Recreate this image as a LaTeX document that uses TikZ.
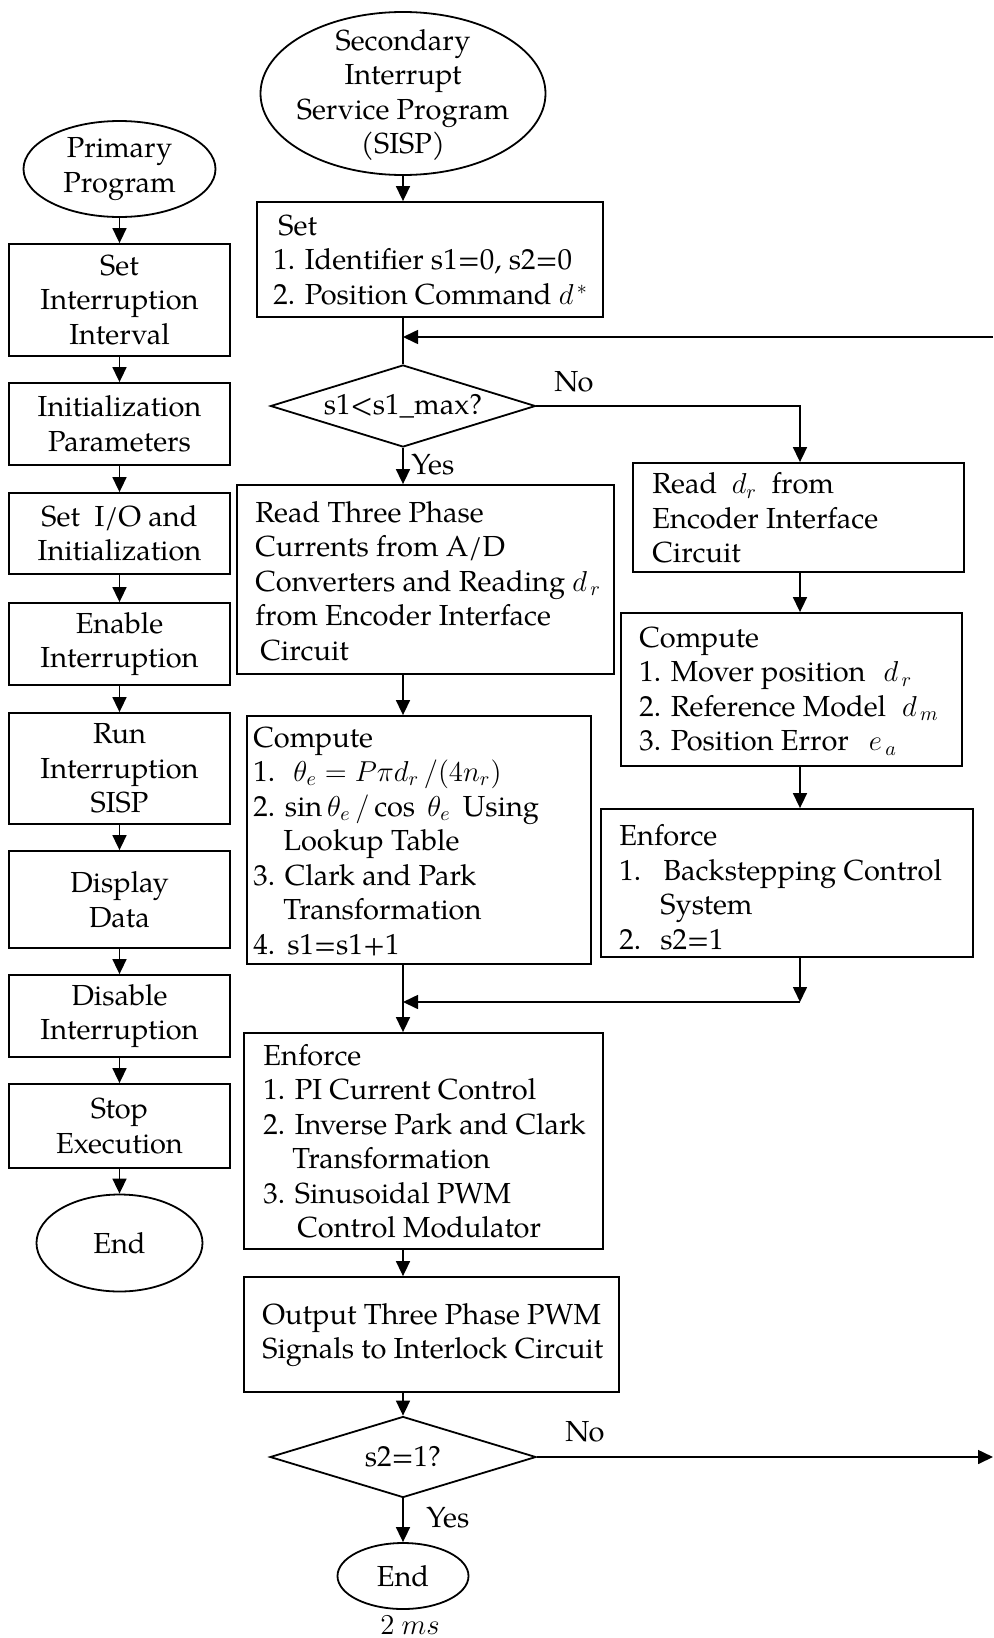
\documentclass[tikz,border=0pt]{standalone}
\usepackage{fontspec}
\setmainfont{TeX Gyre Pagella}
\usetikzlibrary{shapes.geometric,arrows.meta,calc}

\tikzset{
  every node/.style={font=\fontsize{14.5}{17.25}\selectfont},
  box/.style={draw, line width=0.9pt, inner sep=0pt},
  lbox/.style={box, minimum width=110.5pt, align=center},
  oval/.style={draw, ellipse, line width=0.9pt, inner sep=0pt, align=center},
  txt/.style={anchor=west, align=left, inner sep=0pt},
  ctxt/.style={align=center, inner sep=0pt},
  cond/.style={draw, diamond, line width=0.9pt, inner sep=0pt, shape aspect=3.2},
  flow/.style={line width=0.8pt, -{Triangle[length=7.5pt,width=7pt]}},
  wire/.style={line width=0.8pt},
  lbl/.style={inner sep=0pt},
}

\begin{document}
\begin{tikzpicture}[x=0.5pt,y=-0.5pt]
\useasboundingbox (0,0) rectangle (993,1638);

% ---------------- primary program (left column) ----------------
\node[oval, minimum width=96pt, minimum height=48pt] (prim) at (119.5,169) {Primary\\Program};
\node[lbox, minimum height=56pt]   (b1) at (119.5,300)   {Set\\Interruption\\Interval};
\node[lbox, minimum height=41pt]   (b2) at (119.5,424)   {Initialization\\Parameters};
\node[lbox, minimum height=40.5pt] (b3) at (119.5,533.5) {Set\ \ I/O and\\Initialization};
\node[lbox, minimum height=41pt]   (b4) at (119.5,644)   {Enable\\Interruption};
\node[lbox, minimum height=55.5pt] (b5) at (119.5,768.5) {Run\\Interruption\\SISP};
\node[lbox, minimum height=48.5pt] (b6) at (119.5,899.5) {Display\\Data};
\node[lbox, minimum height=41pt]   (b7) at (119.5,1016)  {Disable\\Interruption};
\node[lbox, minimum height=42pt]   (b8) at (119.5,1126)  {Stop\\Execution};
\node[oval, minimum width=83pt, minimum height=48.5pt] (endA) at (119.5,1243) {End};

\foreach \a/\b in {prim/b1,b1/b2,b2/b3,b3/b4,b4/b5,b5/b6,b6/b7,b7/b8,b8/endA}
  \draw[flow] (\a.south) -- (\b.north);

% ---------------- secondary interrupt service program ----------------
\node[oval, minimum width=142.5pt, minimum height=81.5pt] (sisp) at (403,93.5) {};
\node[ctxt] (sispT) at (403,95) {Secondary\\Interrupt\\Service Program\\(SISP)};

\node[box, minimum width=173pt, minimum height=57.5pt] (set) at (430,259.5) {};
\node[txt] (setT) at (273,260) {\hspace*{2.5pt}Set\\1. Identifier s1=0, s2=0\\2. Position Command $d^{\,*}$};
\draw[flow] (sisp.south) -- (sisp.south |- set.north);

\node[cond, minimum width=132.5pt, minimum height=41pt] (d1) at (403,406) {s1<s1\_max?};
\coordinate (fbIn) at (403,337);
\coordinate (fbR) at (993,337);
\draw[wire] (set.south -| d1.north) -- (d1.north);
\draw[flow] (fbR) -- (fbIn);

% yes branch of s1 test
\node[lbl, anchor=west] (yes1) at (411,465) {Yes};
\node[box, minimum width=188.5pt, minimum height=94.5pt] (read) at (425.5,579.5) {};
\node[txt] (readT) at (255,581) {Read Three Phase\\Currents from A/D\\Converters and Reading $d_{\,r}$\\from Encoder Interface\\\hspace*{2.5pt}Circuit};
\draw[flow] (d1.south) -- (d1.south |- read.north);

\node[box, minimum width=172pt, minimum height=124pt] (comp1) at (419,840) {};
\node[txt] (comp1T) at (253,841) {Compute\\\makebox[20pt][l]{1.}$\theta_e = P\pi d_r\,/(4n_r)$\\2. $\sin\theta_e\,/\cos\ \theta_e$\, Using\\\hspace*{15pt}Lookup Table\\3. Clark and Park\\\hspace*{15pt}Transformation\\\makebox[17pt][l]{4.}s1=s1+1};
\draw[flow] (read.south -| d1.south) -- (d1.south |- comp1.north);

% no branch of s1 test
\node[lbl] (no1) at (574,382) {No};
\coordinate (colR) at (800,0);
\node[box, minimum width=165.5pt, minimum height=54.5pt] (read2) at (798.5,517.5) {};
\node[txt] (read2T) at (652,518) {Read\enspace$d_r$\enspace from\\Encoder Interface\\Circuit};
\draw[flow] (d1.east) -| (colR |- read2.north);

\node[box, minimum width=170.5pt, minimum height=76.5pt] (comp2) at (791.5,689.5) {};
\node[txt] (comp2T) at (639,691) {Compute\\1. Mover position\hspace{9pt}$d_{\,r}$\\2. Reference Model\hspace{8pt}$d_{\,m}$\\3. Position Error\hspace{10pt}$e_{\,a}$};
\draw[flow] (colR |- read2.south) -- (colR |- comp2.north);

\node[box, minimum width=186pt, minimum height=74pt] (enf2) at (787,883) {};
\node[txt] (enf2T) at (619,887) {Enforce\\\makebox[22pt][l]{1.}Backstepping Control\\\hspace*{20.5pt}System\\\makebox[20.5pt][l]{2.}s2=1};
\draw[flow] (colR |- comp2.south) -- (colR |- enf2.north);

% merge of both branches
\coordinate (joinR) at (800,1002);
\coordinate (joinL) at (403,1002);
\draw[flow] (colR |- enf2.south) -- (joinR);
\draw[flow] (joinR) -- (joinL);

\node[box, minimum width=179.5pt, minimum height=108pt] (enf1) at (423.5,1141) {};
\node[txt] (enf1T) at (263,1141) {Enforce\\1. PI Current Control\\2. Inverse Park and Clark\\\hspace*{14.5pt}Transformation\\3. Sinusoidal PWM\\\hspace*{17pt}Control Modulator};
\draw[flow] (comp1.south -| joinL) -- (joinL |- enf1.north);

\node[box, minimum width=187.5pt, minimum height=57.5pt] (out) at (431.5,1334.5) {};
\node[txt] (outT) at (262,1335) {Output Three Phase PWM\\Signals to Interlock Circuit};
\draw[flow] (enf1.south -| joinL) -- (joinL |- out.north);

% s2 test
\node[cond, minimum width=133pt, minimum height=40.5pt] (d2) at (403,1457) {s2=1?};
\draw[flow] (out.south -| d2.north) -- (d2.north);
\node[lbl] (no2) at (585,1432) {No};
\coordinate (noR) at (993,1457);
\draw[flow] (d2.east) -- (noR);

\node[lbl, anchor=west] (yes2) at (426,1518) {Yes};
\node[oval, minimum width=65.5pt, minimum height=33pt] (endB) at (403,1576) {End};
\draw[flow] (d2.south) -- (d2.south |- endB.north);
\node[lbl] (ms) at (410,1625) {$2\ ms$};
\end{tikzpicture}
\end{document}
